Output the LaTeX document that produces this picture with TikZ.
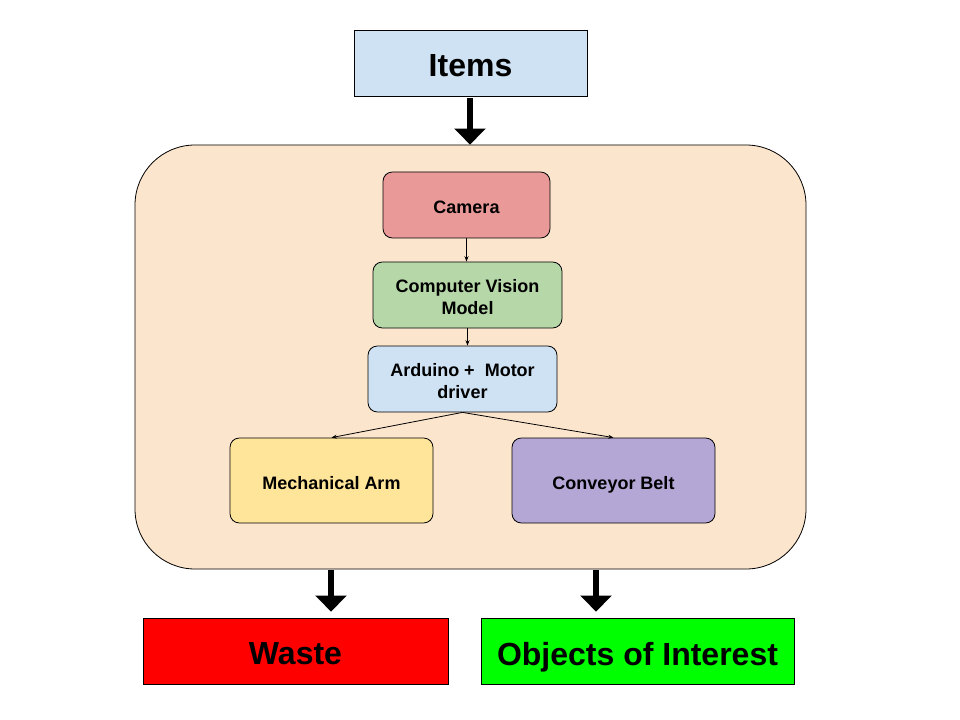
\documentclass[tikz,border=0pt]{standalone}
\usepackage{fontspec}
\setmainfont{Liberation Sans}
\usetikzlibrary{arrows.meta}
\definecolor{cblue}{HTML}{CFE2F3}
\definecolor{cpeach}{HTML}{FCE5CD}
\definecolor{cred}{HTML}{EA9999}
\definecolor{cgreen}{HTML}{B6D7A8}
\definecolor{cyellow}{HTML}{FFE599}
\definecolor{cpurple}{HTML}{B4A7D6}
\definecolor{wred}{HTML}{FF0000}
\definecolor{wgreen}{HTML}{00FF00}
\tikzset{
  bigtext/.style={font=\fontsize{24}{28}\selectfont\bfseries, align=center, inner sep=0pt, text depth=0pt, yshift=-1.9pt},
  smalltext/.style={font=\fontsize{13.5}{16.5}\selectfont\bfseries, align=center, inner sep=0pt, yshift=-1.6pt},
  smallline/.style={smalltext, text depth=0pt},
  bigbox/.style={draw=black, line width=0.6pt, inner sep=0pt},
  smallbox/.style={draw=black, line width=0.6pt, rounded corners=7pt, inner sep=0pt},
  thickarrow/.style={line width=4pt, -{Triangle[width=23pt,length=12pt]}},
  thinarrow/.style={line width=0.6pt, -{Stealth[length=4pt,width=3pt]}},
}
\begin{document}
\begin{tikzpicture}[x=0.75pt,y=-0.75pt]
\useasboundingbox (0,0) rectangle (960,720);
\fill[white] (0,0) rectangle (960,720);
% container
\node[draw=black, line width=0.6pt, fill=cpeach, rounded corners=45pt, minimum width=671*0.75pt, minimum height=424*0.75pt, inner sep=0pt] (box) at (470.5,357) {};
% top and bottom
\node[bigbox, fill=cblue, minimum width=233*0.75pt, minimum height=66*0.75pt, label={[bigtext]center:Items}] (items) at (470.5,63) {};
\node[bigbox, fill=wred, minimum width=305*0.75pt, minimum height=66*0.75pt, label={[bigtext]center:Waste}] (waste) at (295.5,651) {};
\node[bigbox, fill=wgreen, minimum width=313*0.75pt, minimum height=66*0.75pt, label={[bigtext]center:Objects of Interest}] (obj) at (637.5,651) {};
% inner
\node[smallbox, fill=cred, minimum width=167*0.75pt, minimum height=66*0.75pt, label={[smallline]center:Camera}] (cam) at (466.5,205) {};
\node[smallbox, fill=cgreen, minimum width=189*0.75pt, minimum height=66*0.75pt, label={[smalltext]center:{Computer Vision\\Model}}] (cvm) at (467.5,295) {};
\node[smallbox, fill=cblue, minimum width=189*0.75pt, minimum height=66*0.75pt, label={[smalltext]center:{Arduino +~ Motor\\driver}}] (ard) at (462.5,379) {};
\node[smallbox, fill=cyellow, minimum width=203*0.75pt, minimum height=85*0.75pt, label={[smallline]center:Mechanical Arm}] (arm) at (331.5,480.5) {};
\node[smallbox, fill=cpurple, minimum width=203*0.75pt, minimum height=85*0.75pt, label={[smallline]center:Conveyor Belt}] (belt) at (613.5,480.5) {};
% thin arrows
\draw[thinarrow] (cam.south) -- (cvm.north -| cam.south);
\draw[thinarrow] (cvm.south) -- (ard.north -| cvm.south);
\draw[thinarrow] (ard.south) -- (arm.north);
\draw[thinarrow] (ard.south) -- (belt.north);
% thick arrows
\coordinate (a1) at (470,98);
\coordinate (a2) at (331,570);
\coordinate (a3) at (596,570);
\draw[thickarrow] (a1) -- (a1 |- box.north);
\draw[thickarrow] (a2) -- ([yshift=4.5pt]a2 |- waste.north);
\draw[thickarrow] (a3) -- ([yshift=4.5pt]a3 |- obj.north);
\end{tikzpicture}
\end{document}
